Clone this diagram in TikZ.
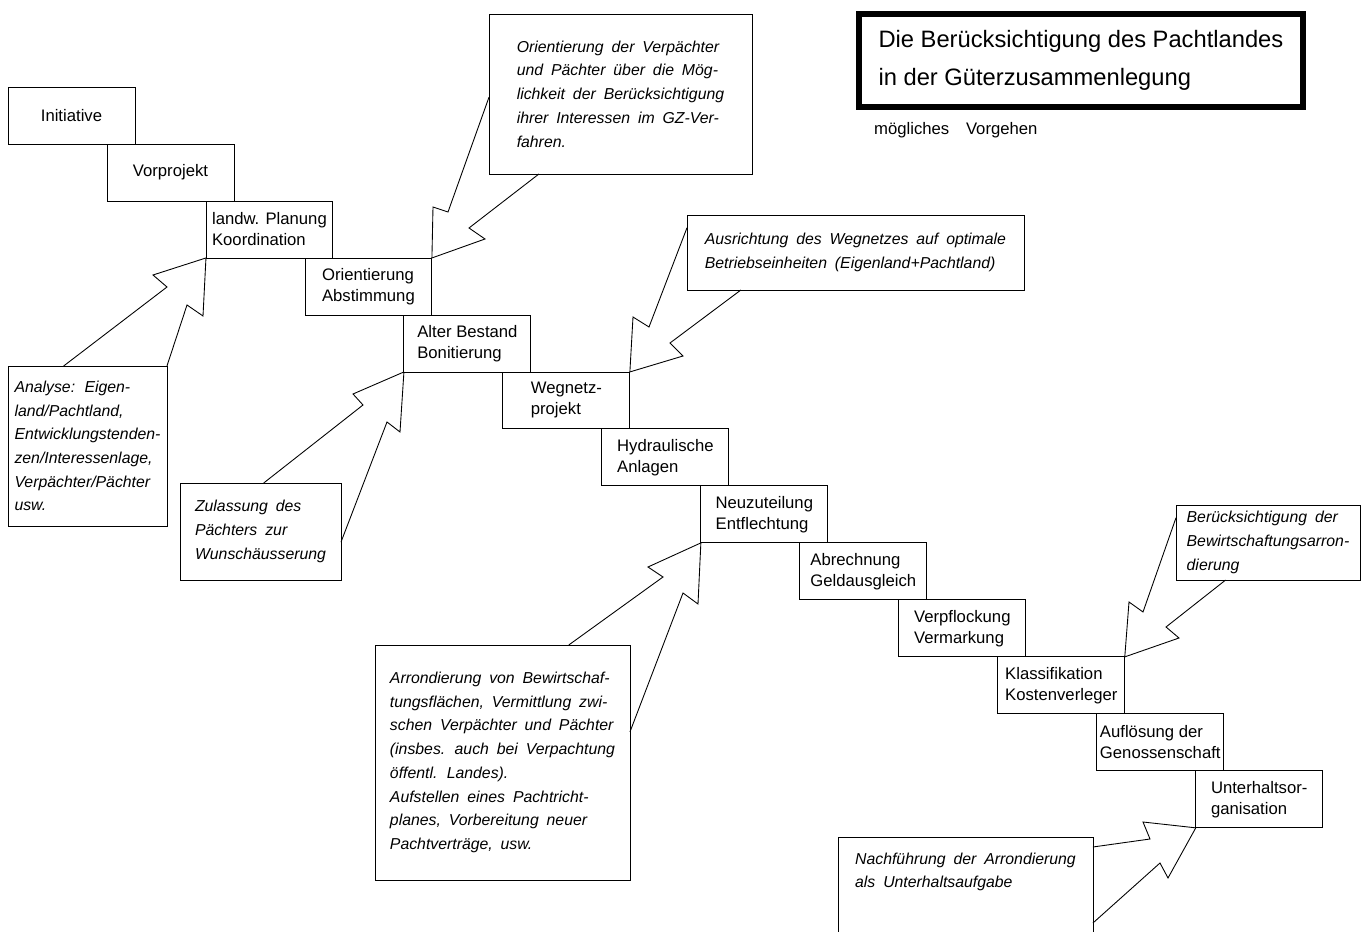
\documentclass[tikz,border=0pt]{standalone}
\usepackage{fontspec}
\setmainfont{Liberation Sans}
\usetikzlibrary{positioning,calc}

\newcommand{\notizschrift}{\fontsize{9}{13.5}\selectfont\itshape\spaceskip=0.5em plus 0.1em\relax}

\tikzset{
  stufe/.style={draw, line width=0.5pt, outer sep=0pt, inner xsep=1pt, minimum width=2.54cm, minimum height=1.14cm, align=left, font=\fontsize{9.5}{12}\selectfont},
  notiz/.style={draw, line width=0.5pt, outer sep=0pt, inner xsep=2pt, anchor=north west, align=left, font=\notizschrift},
  blitz/.style={line width=0.5pt, line join=miter},
}

\begin{document}
\begin{tikzpicture}[x=0.02cm, y=-0.02cm]
\useasboundingbox (0,0) rectangle (1363,932);
% Titel
\node[draw, line width=3.4pt, anchor=north west, minimum width=8.88cm, minimum height=1.86cm, align=left, font=\fontsize{13.5}{21.6}\selectfont] (titel) at (856,11) {Die Berücksichtigung des Pachtlandes\\in der Güterzusammenlegung};
\node[anchor=west, font=\fontsize{9.5}{12}\selectfont] (untertitel) at (868,130) {mögliches\quad Vorgehen};
%
% Treppe
\node[stufe, anchor=north west] (ini) at (8,87) {Initiative};
\node[stufe, below right=0cm and -0.56cm of ini] (vor) {Vorprojekt};
\node[stufe, below right=0cm and -0.56cm of vor] (plan) {landw. Planung\\Koordination};
\node[stufe, below right=0cm and -0.56cm of plan] (orient) {Orientierung\\Abstimmung};
\node[stufe, below right=0cm and -0.56cm of orient] (best) {Alter Bestand\\Bonitierung};
\node[stufe, below right=0cm and -0.56cm of best] (weg) {Wegnetz-\\projekt};
\node[stufe, below right=0cm and -0.56cm of weg] (hyd) {Hydraulische\\Anlagen};
\node[stufe, below right=0cm and -0.56cm of hyd] (neu) {Neuzuteilung\\Entflechtung};
\node[stufe, below right=0cm and -0.56cm of neu] (abr) {Abrechnung\\Geldausgleich};
\node[stufe, below right=0cm and -0.56cm of abr] (verpf) {Verpflockung\\Vermarkung};
\node[stufe, below right=0cm and -0.56cm of verpf] (kla) {Klassifikation\\Kostenverleger};
\node[stufe, below right=0cm and -0.56cm of kla] (aufl) {Auflösung der\\Genossenschaft};
\node[stufe, below right=0cm and -0.56cm of aufl] (unt) {Unterhaltsor-\\ganisation};
%
% Bemerkungen
\node[notiz, minimum width=5.26cm, minimum height=3.2cm] (orv) at (489,14) {Orientierung der Verpächter\\und Pächter über die Mög-\\lichkeit der Berücksichtigung\\ihrer Interessen im GZ-Ver-\\fahren.};
\node[notiz, minimum width=6.74cm, minimum height=1.5cm] (aus) at (687,215) {Ausrichtung des Wegnetzes auf optimale\\Betriebseinheiten (Eigenland+Pachtland)};
\node[notiz, minimum width=3.18cm, minimum height=3.2cm] (ana) at (8,366) {Analyse: Eigen-\\land/Pachtland,\\Entwicklungstenden-\\zen/Interessenlage,\\Verpächter/Pächter\\usw.};
\node[notiz, minimum width=3.22cm, minimum height=1.94cm] (zul) at (180,483) {Zulassung des\\Pächters zur\\Wunschäusserung};
\node[notiz, minimum width=5.1cm, minimum height=4.7cm] (arr) at (375,645) {Arrondierung von Bewirtschaf-\\tungsflächen, Vermittlung zwi-\\schen Verpächter und Pächter\\(insbes. auch bei Verpachtung\\öffentl. Landes).\\Aufstellen eines Pachtricht-\\planes, Vorbereitung neuer\\Pachtverträge, usw.};
\node[notiz, minimum width=3.68cm, minimum height=1.5cm] (ber) at (1176,505) {Berücksichtigung der\\Bewirtschaftungsarron-\\dierung};
\node[notiz, minimum width=5.1cm, inner ysep=9pt] (nach) at (838,837) {Nachführung der Arrondierung\\als Unterhaltsaufgabe\\[1.5cm]\mbox{}};
%
% Pfeile
\draw[blitz] ($(ana.north west)!0.35!(ana.north east)$) -- (167,287) -- (153,275) -- (plan.south west);
\draw[blitz] (ana.north east) -- (187,305) -- (203,316) -- (plan.south west);
%
\draw[blitz] ($(zul.north west)!0.52!(zul.north east)$) -- (363,405) -- (353,394) -- (best.south west);
\draw[blitz] ($(zul.north east)!0.61!(zul.south east)$) -- (387,422) -- (400,432) -- (best.south west);
%
\draw[blitz] ($(orv.north west)!0.52!(orv.south west)$) -- (448,212) -- (433,207) -- (orient.north east);
\draw[blitz] ($(orv.south west)!0.19!(orv.south east)$) -- (469,228) -- (485,239) -- (orient.north east);
%
\draw[blitz] ($(aus.north west)!0.17!(aus.south west)$) -- (649,327) -- (633,317) -- (weg.north east);
\draw[blitz] ($(aus.south west)!0.16!(aus.south east)$) -- (670,343) -- (683,356) -- (weg.north east);
%
\draw[blitz] ($(arr.north west)!0.76!(arr.north east)$) -- (663,577) -- (648,567) -- (neu.south west);
\draw[blitz] ($(arr.north east)!0.37!(arr.south east)$) -- (683,593) -- (698,604) -- (neu.south west);
%
\draw[blitz] ($(ber.north west)!0.17!(ber.south west)$) -- (1143,612) -- (1129,602) -- (kla.north east);
\draw[blitz] ($(ber.south west)!0.27!(ber.south east)$) -- (1166,627) -- (1179,638) -- (kla.north east);
%
\draw[blitz] ($(nach.north east)+(0,10)$) -- (1150,839) -- (1143,822) -- (unt.south west);
\draw[blitz] ($(nach.north east)+(0,86)$) -- (1160,863) -- (1168,878) -- (unt.south west);
\end{tikzpicture}
\end{document}
